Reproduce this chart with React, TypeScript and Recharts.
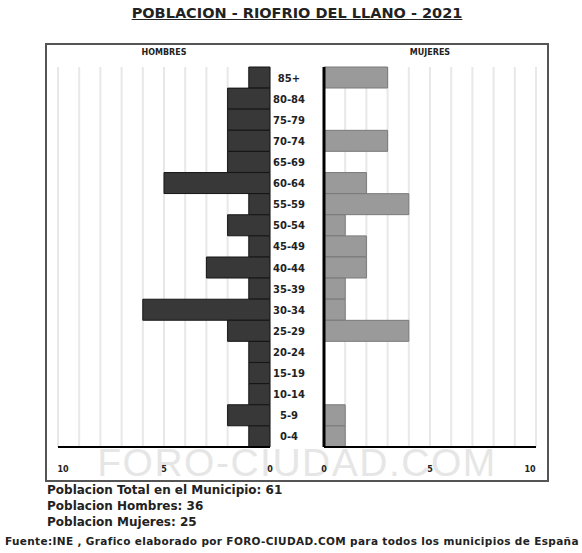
import { BarChart, Bar, XAxis, YAxis, CartesianGrid } from "recharts";

const ageGroups = [
  "85+", "80-84", "75-79", "70-74", "65-69", "60-64", "55-59", "50-54", "45-49",
  "40-44", "35-39", "30-34", "25-29", "20-24", "15-19", "10-14", "5-9", "0-4",
];
const hombres = [1, 2, 2, 2, 2, 5, 1, 2, 1, 3, 1, 6, 2, 1, 1, 1, 2, 1];
const mujeres = [3, 0, 0, 3, 0, 2, 4, 1, 2, 2, 1, 1, 4, 0, 0, 0, 1, 1];
const gridTicks = [0, 1, 2, 3, 4, 5, 6, 7, 8, 9, 10];
const labelTicks = [0, 5, 10];

const data = ageGroups.map((age, i) => ({
  age,
  hombres: hombres[i],
  mujeres: mujeres[i],
}));

const totalH = hombres.reduce((a, b) => a + b, 0);
const totalM = mujeres.reduce((a, b) => a + b, 0);

const FONT = '"DejaVu Sans", Verdana, sans-serif';

const ValueTick = (props: any) => {
  const { x, y, payload, side } = props;
  if (!labelTicks.includes(payload.value)) return <g />;
  let dx = 0;
  if (payload.value === 10) dx = side === "left" ? 5 : -6;
  return (
    <text
      x={x + dx}
      y={y + 17}
      textAnchor="middle"
      fontSize={8}
      fontWeight="bold"
      fill="#222"
      fontFamily={FONT}
    >
      {payload.value}
    </text>
  );
};

const AgeTick = (props: any) => {
  const { x, y, payload } = props;
  return (
    <text
      x={x - 27}
      y={y + 4}
      textAnchor="middle"
      fontSize={10}
      fontWeight="bold"
      fill="#222"
      fontFamily={FONT}
    >
      {payload.value}
    </text>
  );
};

const abs = (left: number, top: number): React.CSSProperties => ({
  position: "absolute",
  left,
  top,
});

export default function App() {
  return (
    <div
      style={{
        position: "absolute",
        left: 0,
        top: 0,
        width: 582,
        height: 553,
        background: "#fff",
        fontFamily: FONT,
        color: "#222",
        overflow: "hidden",
      }}
    >
      {/* titulo */}
      <div
        style={{
          ...abs(0, 5),
          width: 594,
          textAlign: "center",
          fontSize: 14.5,
          fontWeight: "bold",
          textDecoration: "underline",
        }}
      >
        POBLACION - RIOFRIO DEL LLANO - 2021
      </div>

      {/* marco */}
      <div
        style={{
          ...abs(45, 43),
          width: 500,
          height: 435,
          border: "2px solid #555",
        }}
      />

      {/* marca de agua */}
      <div
        style={{
          ...abs(0, 441),
          width: 594,
          textAlign: "center",
          fontSize: 39,
          color: "#e6e6e6",
          fontFamily: '"Liberation Sans", sans-serif',
          letterSpacing: 1.5,
        }}
      >
        FORO-CIUDAD.COM
      </div>

      <div style={{ ...abs(0, 48), width: 328, textAlign: "center", fontSize: 8, fontWeight: "bold" }}>
        HOMBRES
      </div>
      <div style={{ ...abs(324, 48), width: 212, textAlign: "center", fontSize: 8, fontWeight: "bold" }}>
        MUJERES
      </div>

      {/* hombres */}
      <div style={abs(0, 0)}>
        <BarChart
          width={582}
          height={480}
          data={data}
          layout="vertical"
          margin={{ top: 67, right: 312, bottom: 0, left: 58 }}
          barCategoryGap={0}
        >
          <CartesianGrid horizontal={false} stroke="#e8e8e8" strokeWidth={2} />
          <XAxis
            type="number"
            domain={[0, 10]}
            ticks={gridTicks}
            interval={0}
            reversed
            height={33}
            axisLine={{ stroke: "#000", strokeWidth: 2 }}
            tickLine={false}
            tick={<ValueTick side="left" />}
          />
          <YAxis
            type="category"
            dataKey="age"
            orientation="right"
            width={0}
            tick={false}
            tickLine={false}
            axisLine={{ stroke: "#000", strokeWidth: 3 }}
          />
          <Bar dataKey="hombres" fill="#383838" stroke="#151515" isAnimationActive={false} />
        </BarChart>
      </div>

      {/* mujeres */}
      <div style={abs(0, 0)}>
        <BarChart
          width={582}
          height={480}
          data={data}
          layout="vertical"
          margin={{ top: 67, right: 46, bottom: 0, left: 270 }}
          barCategoryGap={0}
        >
          <CartesianGrid horizontal={false} stroke="#e8e8e8" strokeWidth={2} />
          <XAxis
            type="number"
            domain={[0, 10]}
            ticks={gridTicks}
            interval={0}
            height={33}
            axisLine={{ stroke: "#000", strokeWidth: 2 }}
            tickLine={false}
            tick={<ValueTick side="right" />}
          />
          <YAxis
            type="category"
            dataKey="age"
            width={54}
            tick={<AgeTick />}
            tickLine={false}
            interval={0}
            axisLine={{ stroke: "#000", strokeWidth: 3 }}
          />
          <Bar dataKey="mujeres" fill="#9a9a9a" stroke="#7a7a7a" isAnimationActive={false} />
        </BarChart>
      </div>

      {/* totales */}
      <div style={{ ...abs(47, 482), fontSize: 12, fontWeight: "bold", lineHeight: "16px" }}>
        <div>Poblacion Total en el Municipio: {totalH + totalM}</div>
        <div>Poblacion Hombres: {totalH}</div>
        <div>Poblacion Mujeres: {totalM}</div>
      </div>
      <div
        style={{
          ...abs(5, 535),
          fontSize: 10.5,
          fontWeight: "bold",
          letterSpacing: 0.35,
          whiteSpace: "nowrap",
        }}
      >
        Fuente:INE , Grafico elaborado por FORO-CIUDAD.COM para todos los municipios de España
      </div>
    </div>
  );
}
